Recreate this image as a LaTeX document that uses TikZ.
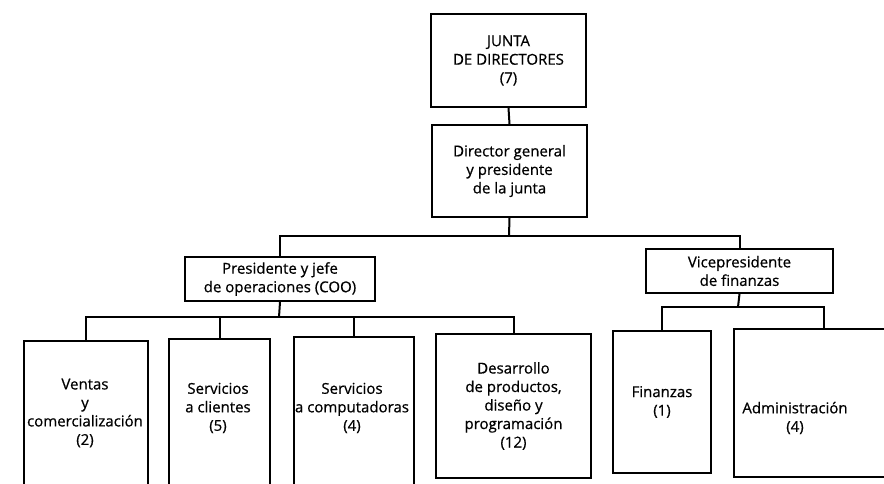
\documentclass[tikz,border=0pt]{standalone}
\usepackage{fontspec}
\setmainfont{Open Sans}[FakeBold=0.6]
\begin{document}
\begin{tikzpicture}[x=1pt,y=-1pt,
  box/.style={draw, line width=2pt, inner sep=0pt, anchor=north west,
    align=center, font=\fontsize{15}{18.5}\selectfont},
  lbl/.style={align=center, inner sep=0pt, font=\fontsize{15}{18.5}\selectfont},
  link/.style={line width=2pt}]
\useasboundingbox (0,0) rectangle (884,483);
\fill[white] (0,0) rectangle (884,483);
\clip (0,0) rectangle (884,483);

% top of the chart
\node[box, minimum width=155pt, minimum height=93pt] (junta) at (430,13)
  {JUNTA\\DE DIRECTORES\\(7)};
\node[box, minimum width=155pt, minimum height=92pt] (director) at (431,124)
  {Director general\\y presidente\\de la junta};

% second level
\node[box, minimum width=190pt, minimum height=44pt] (pres) at (184,256)
  {Presidente y jefe\\de operaciones (COO)};
\node[box, minimum width=187pt, minimum height=44pt] (vice) at (645,248)
  {Vicepresidente\\de finanzas};

% departments (some run past the lower and right edges)
\node[box, minimum width=124pt, minimum height=160pt] (ventas) at (23,340) {};
\node[lbl] at (85,413) {Ventas\\y\\comercialización\\(2)};
\node[box, minimum width=101pt, minimum height=160pt] (servcli) at (168,338) {};
\node[lbl] at (218,408) {Servicios\\a clientes\\(5)};
\node[box, minimum width=120pt, minimum height=160pt] (servcomp) at (293,336) {};
\node[lbl] at (352,408) {Servicios\\a computadoras\\(4)};
\node[box, minimum width=155pt, minimum height=144pt] (desarrollo) at (435,333)
  {Desarrollo\\de productos,\\diseño y\\programación\\(12)};
\node[box, minimum width=98pt, minimum height=142pt] (finanzas) at (612,330)
  {Finanzas\\(1)};
\node[box, minimum width=180pt, minimum height=148pt] (admin) at (733,328) {};
\node[lbl] at (795,418) {Administración\\(4)};

% connectors
\draw[link] (junta.south) -- (director.north);
\coordinate (busA) at (509,236);
\draw[link] (director.south) -- (busA);
\draw[link] (pres.north) |- (busA);
\draw[link] (vice.north) |- (busA);

\coordinate (busB) at (279,317);
\draw[link] (pres.south) -- (busB);
\draw[link] (ventas.north) |- (busB);
\draw[link] (servcli.north) |- (busB);
\draw[link] (servcomp.north) |- (busB);
\draw[link] (desarrollo.north) |- (busB);

\coordinate (busC) at (738,307);
\draw[link] (vice.south) -- (busC);
\draw[link] (finanzas.north) |- (busC);
\draw[link] (admin.north) |- (busC);
\end{tikzpicture}
\end{document}
